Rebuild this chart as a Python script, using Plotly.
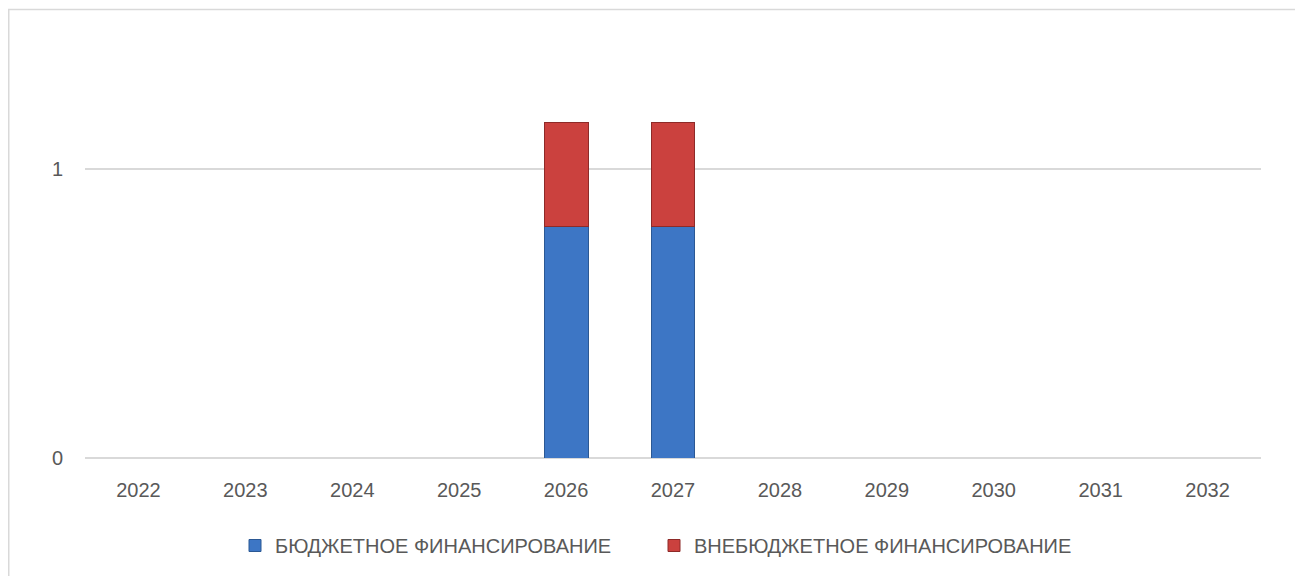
import plotly.graph_objects as go

years = ["2022", "2023", "2024", "2025", "2026", "2027", "2028", "2029", "2030", "2031", "2032"]
budget = [0, 0, 0, 0, 0.8, 0.8, 0, 0, 0, 0, 0]
extra = [0, 0, 0, 0, 0.36, 0.36, 0, 0, 0, 0, 0]
name_budget = "БЮДЖЕТНОЕ ФИНАНСИРОВАНИЕ"
name_extra = "ВНЕБЮДЖЕТНОЕ ФИНАНСИРОВАНИЕ"

W, H = 1303, 576
L, R, T, B = 77, 50, 50, 126
PW, PH = W - L - R, H - T - B


def px_x(px):
    return (px - L) / PW


def px_y(py):
    return (H - B - py) / PH


fig = go.Figure()
fig.add_trace(go.Bar(x=years, y=budget, name=name_budget,
                     marker=dict(color="#3D76C5", line=dict(color="#2B5894", width=1))))
fig.add_trace(go.Bar(x=years, y=extra, name=name_extra,
                     marker=dict(color="#CB413E", line=dict(color="#8E2A28", width=1))))

fig.update_layout(
    barmode="stack",
    bargap=0.59,
    width=W, height=H,
    margin=dict(l=L, r=R, t=T, b=B, autoexpand=False),
    paper_bgcolor="white", plot_bgcolor="white",
    font=dict(family="Liberation Sans, Arial, sans-serif", size=20, color="#595959"),
    showlegend=True,
    legend=dict(orientation="h", x=px_x(227), xanchor="left", y=px_y(518), yanchor="top",
                font=dict(size=20, color="#595959"), traceorder="normal",
                itemwidth=30, entrywidth=374, bgcolor="rgba(0,0,0,0)"),
    xaxis=dict(showline=False, showgrid=False, ticks="", tickfont=dict(size=20),
               ticklabelstandoff=18, automargin=False),
    yaxis=dict(range=[0, PH / 289], tickvals=[0, 1], ticktext=["0", "1"],
               showgrid=True, gridcolor="#D9D9D9", gridwidth=1.5,
               zeroline=True, zerolinecolor="#D9D9D9", zerolinewidth=1.5,
               ticks="", tickfont=dict(size=20), ticklabelstandoff=21, automargin=False),
    shapes=[dict(type="rect", xref="paper", yref="paper",
                 x0=px_x(0.75), x1=px_x(1302), y0=px_y(590), y1=px_y(1.5),
                 line=dict(color="#D9D9D9", width=1.5), fillcolor="rgba(0,0,0,0)", layer="below")],
)

fig.write_html("out.html")
